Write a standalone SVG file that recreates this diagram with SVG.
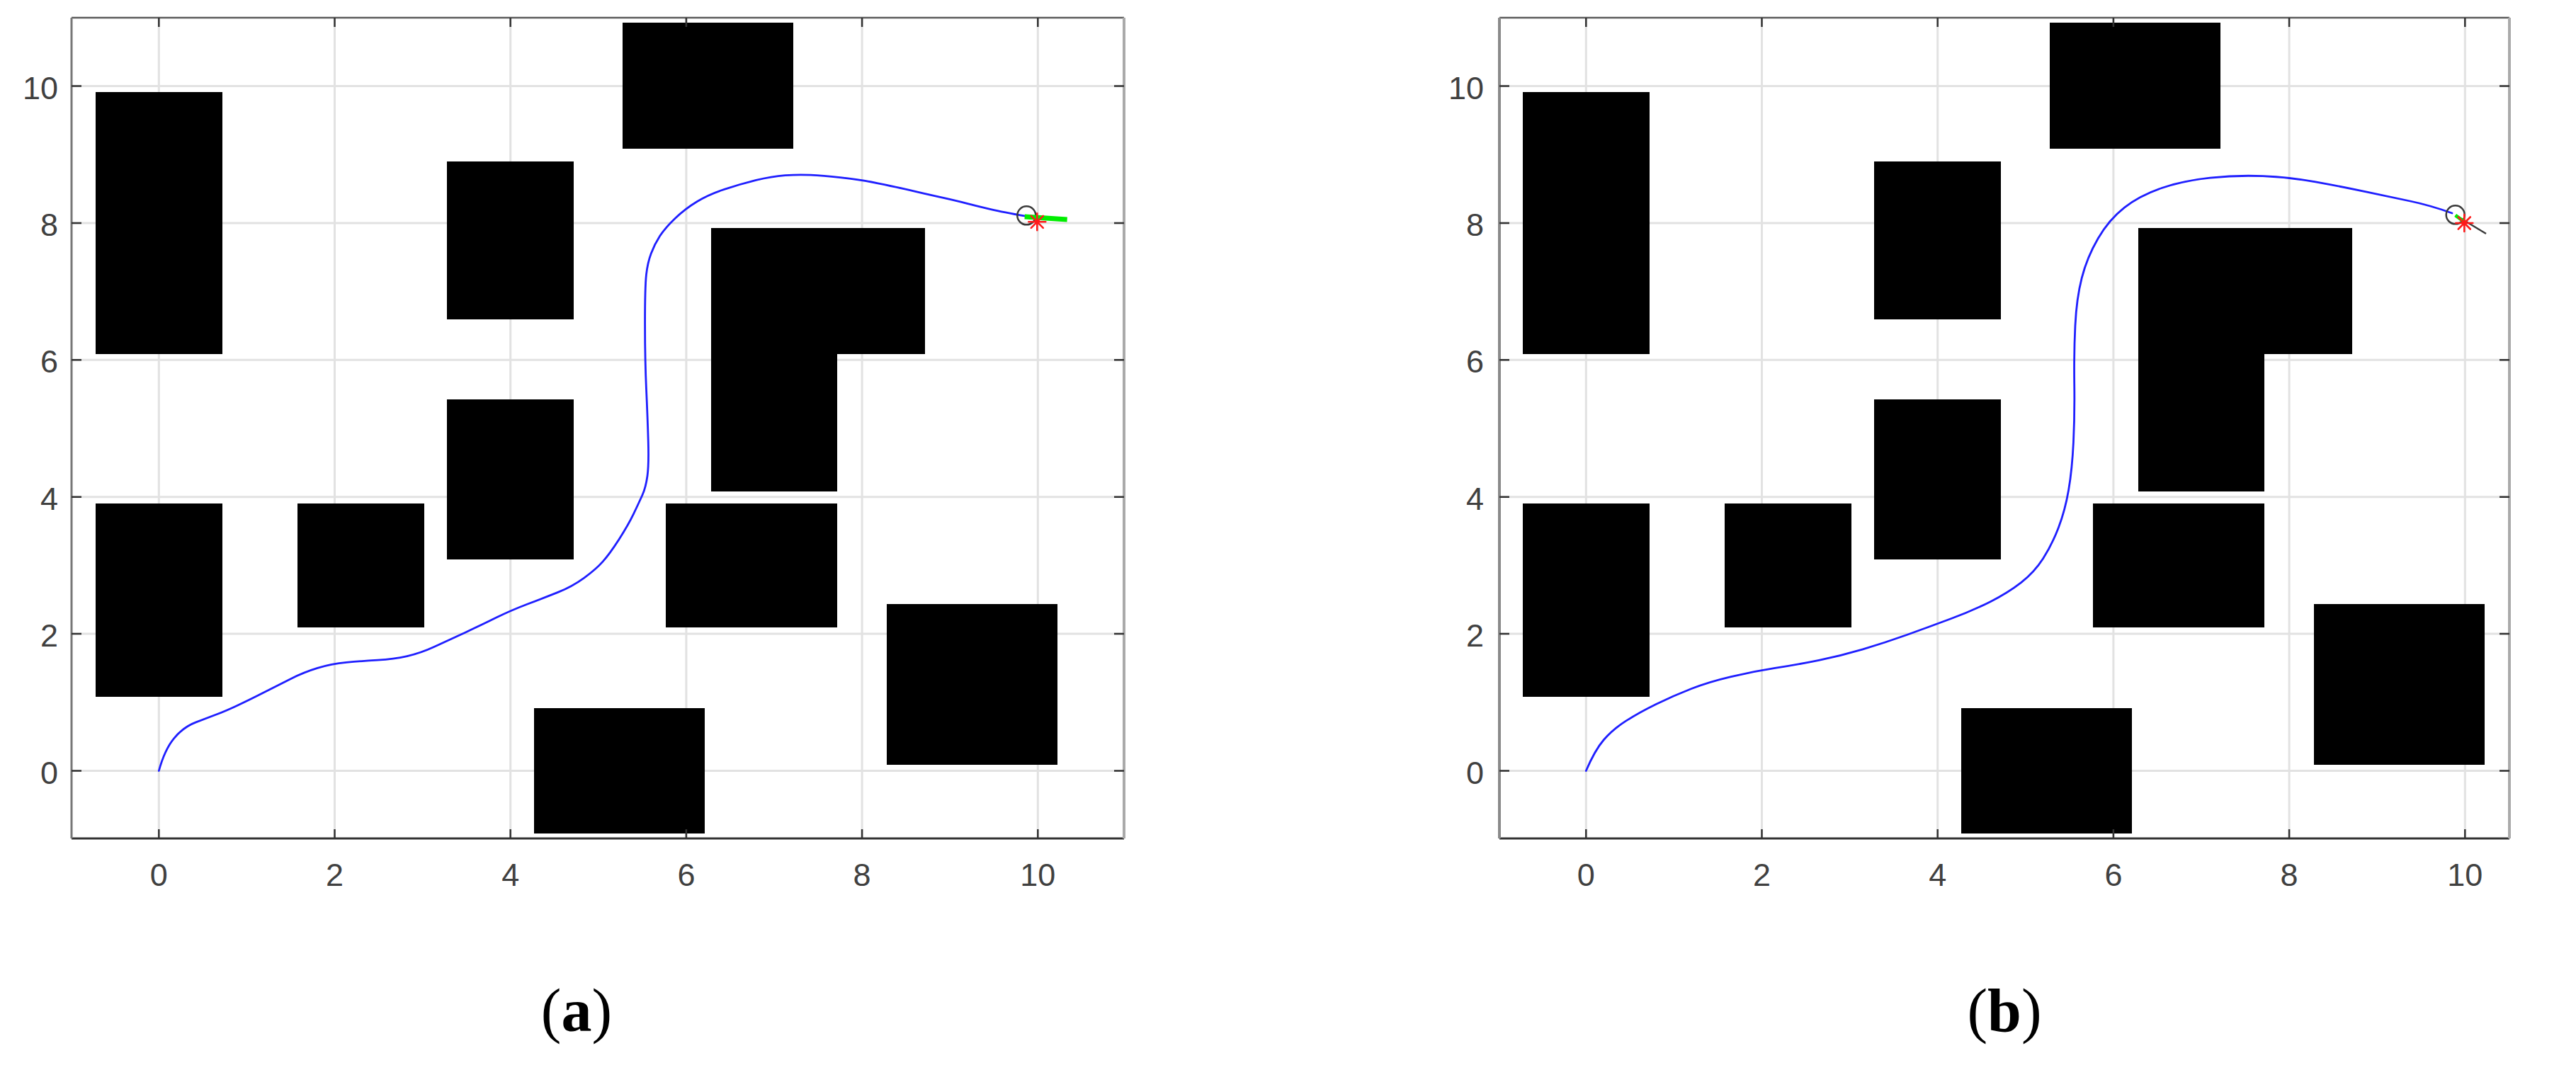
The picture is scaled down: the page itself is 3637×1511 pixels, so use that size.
<svg xmlns="http://www.w3.org/2000/svg" width="3637" height="1511" viewBox="0 0 3637 1511">
<style>
.bg{fill:#ffffff}
.grid{stroke:#e2e2e2;stroke-width:3;fill:none}
.obs{fill:#000000}
.tick{stroke:#333333;stroke-width:2.5}
.lbl{font-family:"Liberation Sans",Arial,sans-serif;font-size:45px;fill:#404040}
.ylbl{text-anchor:end}
.xlbl{text-anchor:middle}
.path{fill:none;stroke:#1f1fff;stroke-width:2.8;stroke-linejoin:round;stroke-linecap:round}
.robot{fill:none;stroke:#3a3a3a;stroke-width:2.5}
.star{stroke:#ff1a1a;stroke-width:2.6;stroke-linecap:round}
.cap{font-family:"Liberation Serif","Times New Roman",serif;font-size:86px;fill:#000000;text-anchor:middle}
</style>
<defs>
<g id="obstacles">
<rect class="obs" x="135" y="130" width="179" height="370"/>
<rect class="obs" x="135" y="711" width="179" height="273"/>
<rect class="obs" x="420" y="711" width="179" height="175"/>
<rect class="obs" x="631" y="564" width="179" height="226"/>
<rect class="obs" x="631" y="228" width="179" height="223"/>
<rect class="obs" x="879" y="32" width="241" height="178"/>
<path class="obs" d="M1004 322 H1306 V500 H1182 V694 H1004 Z"/>
<rect class="obs" x="940" y="711" width="242" height="175"/>
<rect class="obs" x="1252" y="853" width="241" height="227"/>
<rect class="obs" x="754" y="1000" width="241" height="177"/>
</g>
<g id="gridlines">
<path class="grid" d="M224.3 25V1184M472.5 25V1184M720.7 25V1184M968.9 25V1184M1217.1 25V1184M1465.3 25V1184"/>
</g>
<g id="ticksx">
<path class="tick" d="M224.3 1184v-13M472.5 1184v-13M720.7 1184v-13M968.9 1184v-13M1217.1 1184v-13M1465.3 1184v-13M224.3 25v13M472.5 25v13M720.7 25v13M968.9 25v13M1217.1 25v13M1465.3 25v13"/>
</g>
<g id="xlabels">
<text class="lbl xlbl" x="224.3" y="1251">0</text>
<text class="lbl xlbl" x="472.5" y="1251">2</text>
<text class="lbl xlbl" x="720.7" y="1251">4</text>
<text class="lbl xlbl" x="968.9" y="1251">6</text>
<text class="lbl xlbl" x="1217.1" y="1251">8</text>
<text class="lbl xlbl" x="1465.3" y="1251">10</text>
</g>
</defs>
<rect class="bg" x="0" y="0" width="3637" height="1511"/>

<g id="panel-a">
<g id="grid-a">
<use href="#gridlines"/>
<path class="grid" d="M101 1088.5H1587M101 895.1H1587M101 701.7H1587M101 508.3H1587M101 314.9H1587M101 121.5H1587"/>
</g>
<g id="obstacles-a"><use href="#obstacles"/></g>
<g id="axes-a">
<line x1="101" y1="25" x2="1587" y2="25" stroke="#5c5c5c" stroke-width="2.5"/>
<line x1="101" y1="1184" x2="1587" y2="1184" stroke="#333333" stroke-width="3"/>
<line x1="101" y1="25" x2="101" y2="1184" stroke="#777777" stroke-width="3"/>
<line x1="1587" y1="25" x2="1587" y2="1184" stroke="#aaaaaa" stroke-width="4"/>
<use href="#ticksx"/>
<path class="tick" d="M101 1088.5h14M101 895.1h14M101 701.7h14M101 508.3h14M101 314.9h14M101 121.5h14M1587 1088.5h-14M1587 895.1h-14M1587 701.7h-14M1587 508.3h-14M1587 314.9h-14M1587 121.5h-14"/>
<use href="#xlabels"/>
<text class="lbl ylbl" x="82" y="1106.5">0</text>
<text class="lbl ylbl" x="82" y="913.1">2</text>
<text class="lbl ylbl" x="82" y="719.7">4</text>
<text class="lbl ylbl" x="82" y="526.3">6</text>
<text class="lbl ylbl" x="82" y="332.9">8</text>
<text class="lbl ylbl" x="82" y="139.5">10</text>
</g>
<g id="connectors-a">
<path id="trajectory-a" class="path" d="M224.3 1088.5 Q232.5 1058.5 245.75 1042.55 Q259 1026.6 276.1 1020.1 Q293.2 1013.6 305.3 1009 Q317.4 1004.4 334.15 996.65 Q350.9 988.9 370.75 978.75 Q390.6 968.6 409.85 958.9 Q429.1 949.2 448.3 943.4 Q467.5 937.6 489.25 935.45 Q511 933.3 533.3 932.1 Q555.6 930.9 574.85 926.55 Q594.1 922.2 613.35 913.25 Q632.6 904.3 656.8 893.15 Q681 882 700.85 872.1 Q720.7 862.2 744.9 853 Q769.1 843.8 788.35 836.1 Q807.6 828.4 824.35 816.3 Q841.1 804.2 851 793.1 Q860.9 782 873.95 761.65 Q887 741.3 894.45 725.85 Q901.9 710.4 906.85 699.3 Q911.8 688.2 914 672.25 Q916.2 656.3 915.25 622.9 Q914.3 589.5 912.45 548.9 Q910.6 508.3 910.6 456.55 Q910.6 404.8 912.45 387.9 Q914.3 371 919.25 357.95 Q924.2 344.9 931.65 333.3 Q939.1 321.7 953.35 308.15 Q967.6 294.6 984.4 284.45 Q1001.2 274.3 1023.5 267.05 Q1045.8 259.8 1067.55 254.45 Q1089.3 249.1 1108.55 247.65 Q1127.8 246.2 1144.55 247.2 Q1161.3 248.2 1186.1 250.6 Q1210.9 253 1239.45 258.8 Q1268 264.6 1286 268.95 Q1304 273.3 1326.3 278.15 Q1348.6 283 1365.35 287.35 Q1382.1 291.7 1398.9 295.55 Q1415.7 299.4 1447.9 305.2"/>
</g>
<g id="robot-a">
<circle class="robot" cx="1449.3" cy="304.3" r="13"/>
<line x1="1446.7" y1="306" x2="1506.7" y2="310" stroke="#00ee00" stroke-width="7"/>
<path class="star" d="M1452.3 313.3h24M1464.3 301.3v24M1455.8 304.8l17 17M1455.8 321.8l17 -17"/>
</g>
<text id="caption-a" class="cap" x="814" y="1456">(<tspan font-weight="bold">a</tspan>)</text>
</g>

<g id="panel-b">
<g id="grid-b" transform="translate(2015 0)">
<use href="#gridlines"/>
<path class="grid" d="M102 1088.5H1528M102 895.1H1528M102 701.7H1528M102 508.3H1528M102 314.9H1528M102 121.5H1528"/>
</g>
<g id="obstacles-b" transform="translate(2015 0)"><use href="#obstacles"/></g>
<g id="axes-b">
<line x1="2117" y1="25" x2="3543" y2="25" stroke="#5c5c5c" stroke-width="2.5"/>
<line x1="2117" y1="1184" x2="3543" y2="1184" stroke="#333333" stroke-width="3"/>
<line x1="2117" y1="25" x2="2117" y2="1184" stroke="#8a8a8a" stroke-width="4"/>
<line x1="3543" y1="25" x2="3543" y2="1184" stroke="#aaaaaa" stroke-width="4"/>
<g transform="translate(2015 0)"><use href="#ticksx"/><use href="#xlabels"/></g>
<path class="tick" d="M2117 1088.5h14M2117 895.1h14M2117 701.7h14M2117 508.3h14M2117 314.9h14M2117 121.5h14M3543 1088.5h-14M3543 895.1h-14M3543 701.7h-14M3543 508.3h-14M3543 314.9h-14M3543 121.5h-14"/>
<text class="lbl ylbl" x="2095" y="1106.5">0</text>
<text class="lbl ylbl" x="2095" y="913.1">2</text>
<text class="lbl ylbl" x="2095" y="719.7">4</text>
<text class="lbl ylbl" x="2095" y="526.3">6</text>
<text class="lbl ylbl" x="2095" y="332.9">8</text>
<text class="lbl ylbl" x="2095" y="139.5">10</text>
</g>
<g id="connectors-b">
<path id="trajectory-b" class="path" d="M2239.3 1088.5 Q2251.7 1059.5 2264.1 1045 Q2276.5 1030.5 2295.15 1018.4 Q2313.8 1006.3 2338.6 994.2 Q2363.4 982.1 2388.2 972.45 Q2413 962.8 2444.05 955.55 Q2475.1 948.3 2506.1 943.45 Q2537.1 938.6 2568.15 932.3 Q2599.2 926 2630.2 916.85 Q2661.2 907.7 2692.25 896.55 Q2723.3 885.4 2754.3 873.8 Q2785.3 862.2 2810.15 849.65 Q2835 837.1 2853.6 822.6 Q2872.2 808.1 2884.6 788.75 Q2897 769.4 2906.3 745.2 Q2915.6 721 2920.6 692 Q2925.6 663 2927.45 624.35 Q2929.3 585.7 2928.7 542.15 Q2928.1 498.6 2929.95 459.95 Q2931.8 421.3 2939.25 392.3 Q2946.7 363.3 2962.2 336.7 Q2977.7 310.1 2999.4 293.15 Q3021.1 276.2 3052.15 265.55 Q3083.2 254.9 3120.4 251.05 Q3157.6 247.2 3194.85 248.65 Q3232.1 250.1 3269.35 256.85 Q3306.6 263.6 3340.7 270.9 Q3374.8 278.2 3402.75 284 Q3430.7 289.8 3462 301"/>
</g>
<g id="robot-b">
<circle class="robot" cx="3466.7" cy="303.3" r="13"/>
<line x1="3467" y1="304" x2="3510" y2="330" stroke="#3a3a3a" stroke-width="2.5"/>
<line x1="3466.7" y1="304" x2="3481.7" y2="315" stroke="#00ee00" stroke-width="5"/>
<path class="star" d="M3467.3 315h24M3479.3 303v24M3470.8 306.5l17 17M3470.8 323.5l17 -17"/>
</g>
<text id="caption-b" class="cap" x="2830" y="1456">(<tspan font-weight="bold">b</tspan>)</text>
</g>
</svg>
